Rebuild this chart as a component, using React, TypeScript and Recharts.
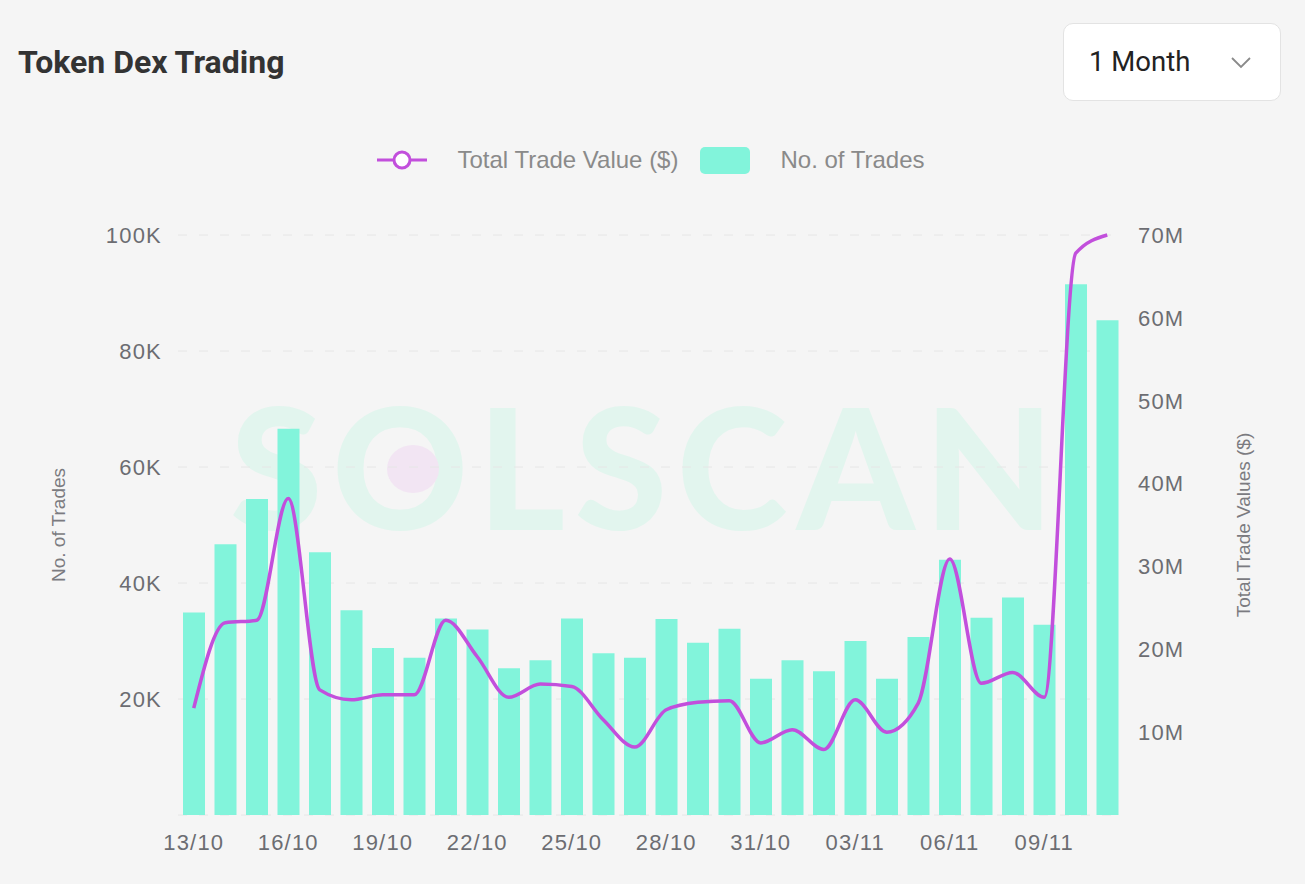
import { Bar, CartesianGrid, ComposedChart, Legend, Line, XAxis, YAxis } from 'recharts';

// daily buckets, 13 Oct -> 11 Nov
const days = [
  '13/10', '14/10', '15/10', '16/10', '17/10', '18/10', '19/10', '20/10', '21/10', '22/10',
  '23/10', '24/10', '25/10', '26/10', '27/10', '28/10', '29/10', '30/10', '31/10', '01/11',
  '02/11', '03/11', '04/11', '05/11', '06/11', '07/11', '08/11', '09/11', '10/11', '11/11',
];

const tradeCounts = [
  34900, 46700, 54500, 66600, 45300, 35300, 28800, 27100, 33900, 32000,
  25300, 26700, 33900, 27900, 27100, 33800, 29700, 32100, 23500, 26700,
  24800, 30000, 23500, 30700, 44000, 34000, 37500, 32800, 91500, 85300,
];

// total trade value, in millions of $
const tradeValuesM = [
  12.9, 23.2, 23.5, 38.2, 15.1, 13.9, 14.5, 14.5, 23.5, 19.1,
  14.2, 15.8, 15.5, 11.5, 8.2, 12.7, 13.6, 13.8, 8.7, 10.3,
  7.9, 13.9, 10.0, 13.5, 30.9, 15.9, 17.2, 14.2, 67.8, 70.0,
];

const tradeTicks = [0, 20000, 40000, 60000, 80000, 100000];
const valueTicks = [0, 10e6, 20e6, 30e6, 40e6, 50e6, 60e6, 70e6];

const BAR_COLOR = '#82f4db';
const LINE_COLOR = '#c24fdc';
const TICK_COLOR = '#6c6d72';
const SANS = "'Liberation Sans', Arial, sans-serif";

const chartData = days.map((day, i) => ({
  day,
  trades: tradeCounts[i],
  value: tradeValuesM[i] * 1e6,
}));

const fmtK = (v: number) => (v === 0 ? '' : `${v / 1000}K`);
const fmtM = (v: number) => (v === 0 ? '' : `${v / 1e6}M`);

const tickStyle = { fill: TICK_COLOR, fontSize: 22, fontFamily: SANS, letterSpacing: 1.2 };

function axisTitle(text: string, dx: number) {
  return (props: any) => {
    const vb = props.viewBox || {};
    const cx = (vb.x ?? 0) + dx;
    const cy = (vb.y ?? 235) + (vb.height ?? 580) / 2;
    return (
      <text
        transform={`translate(${cx}, ${cy}) rotate(-90)`}
        textAnchor='middle'
        dominantBaseline='central'
        fill='#7b7b80'
        fontSize={19}
        fontFamily={SANS}
      >
        {text}
      </text>
    );
  };
}

function ChartLegend() {
  const text = { color: '#8a8a8a', fontSize: 24, fontFamily: SANS };
  return (
    <div style={{ display: 'flex', alignItems: 'center', justifyContent: 'center', paddingRight: 3 }}>
      <svg width={50} height={24}>
        <line x1={0} y1={12} x2={50} y2={12} stroke={LINE_COLOR} strokeWidth={3} />
        <circle cx={25} cy={12} r={8} fill='#fff' stroke={LINE_COLOR} strokeWidth={3} />
      </svg>
      <span style={{ ...text, marginLeft: 30 }}>Total Trade Value ($)</span>
      <span
        style={{ display: 'inline-block', width: 50, height: 27, borderRadius: 5, background: BAR_COLOR, marginLeft: 22 }}
      />
      <span style={{ ...text, marginLeft: 30 }}>No. of Trades</span>
    </div>
  );
}

export default function App() {
  return (
    <div
      style={{
        position: 'absolute',
        left: 0,
        top: 0,
        width: 1305,
        height: 884,
        background: '#f5f5f5',
        overflow: 'hidden',
        fontFamily: SANS,
      }}
    >
      {/* faint logo watermark behind the plot */}
      <svg width={1305} height={884} style={{ position: 'absolute', left: 0, top: 0 }}>
        <text
          x={230}
          y={530}
          fontSize={168}
          fontWeight={900}
          fontFamily='Lato, sans-serif'
          fill='#e2f5ee'
          textLength={824}
          lengthAdjust='spacing'
        >
          SOLSCAN
        </text>
        <ellipse cx={413} cy={469} rx={26} ry={24} fill='#f2e5f3' />
      </svg>

      <div
        style={{
          position: 'absolute',
          left: 18,
          top: 40,
          fontFamily: 'Roboto, sans-serif',
          fontWeight: 700,
          fontSize: 32,
          color: '#333',
          lineHeight: '44px',
        }}
      >
        Token Dex Trading
      </div>

      <div
        style={{
          position: 'absolute',
          left: 1063,
          top: 23,
          width: 216,
          height: 76,
          background: '#fff',
          border: '1px solid #e3e3e3',
          borderRadius: 10,
        }}
      >
        <span
          style={{
            position: 'absolute',
            left: 25,
            top: 20,
            fontFamily: 'Roboto, sans-serif',
            fontSize: 27.5,
            color: '#222',
            lineHeight: '36px',
          }}
        >
          1 Month
        </span>
        <svg width={22} height={14} style={{ position: 'absolute', left: 166, top: 32 }}>
          <polyline points='2,2 11,11 20,2' fill='none' stroke='#8a8a8a' strokeWidth={1.8} />
        </svg>
      </div>

      <div style={{ position: 'absolute', left: 0, top: 0 }}>
        <ComposedChart
          width={1305}
          height={884}
          data={chartData}
          margin={{ top: 235, right: 32, bottom: 29, left: 28 }}
        >
          <CartesianGrid yAxisId='left' vertical={false} stroke='#e6e6e6' strokeDasharray='9 12' />
          <XAxis
            dataKey='day'
            interval={2}
            height={40}
            axisLine={false}
            tickLine={false}
            tickSize={0}
            tickMargin={19}
            tick={tickStyle}
          />
          <YAxis
            yAxisId='left'
            orientation='left'
            width={150}
            domain={[0, 100000]}
            ticks={tradeTicks}
            tickFormatter={fmtK}
            axisLine={false}
            tickLine={false}
            tickSize={0}
            tickMargin={16}
            tick={tickStyle}
            label={axisTitle('No. of Trades', 30)}
          />
          <YAxis
            yAxisId='right'
            orientation='right'
            width={150}
            domain={[0, 70e6]}
            ticks={valueTicks}
            tickFormatter={fmtM}
            axisLine={false}
            tickLine={false}
            tickSize={0}
            tickMargin={15}
            tick={tickStyle}
            label={axisTitle('Total Trade Values ($)', 120)}
          />
          <Legend
            verticalAlign='middle'
            align='center'
            content={<ChartLegend />}
            wrapperStyle={{ left: 0, top: 146, width: 1305 }}
          />
          <Bar
            yAxisId='left'
            dataKey='trades'
            name='No. of Trades'
            fill={BAR_COLOR}
            barSize={22}
            isAnimationActive={false}
          />
          <Line
            yAxisId='right'
            type='monotone'
            dataKey='value'
            name='Total Trade Value ($)'
            stroke={LINE_COLOR}
            strokeWidth={3.5}
            dot={false}
            activeDot={false}
            isAnimationActive={false}
          />
        </ComposedChart>
      </div>
    </div>
  );
}
